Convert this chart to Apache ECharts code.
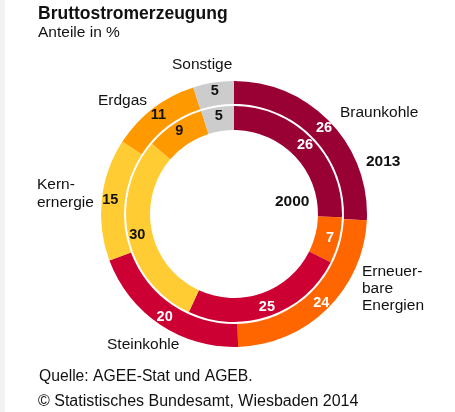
<!DOCTYPE html>
<html>
<head>
<meta charset="utf-8">
<script src="https://cdn.jsdelivr.net/npm/echarts@6/dist/echarts.min.js"></script>
<style>
html,body{margin:0;padding:0;background:#fff;}
#c{width:455px;height:412px;}
</style>
</head>
<body>
<div id="c"></div>
<script>
const categories = ['Braunkohle', 'Erneuerbare Energien', 'Steinkohle', 'Kernenergie', 'Erdgas', 'Sonstige'];
const values2013 = [26, 24, 20, 15, 11, 5];
const values2000 = [26, 7, 25, 30, 9, 5];
const sliceColors = ['#990033', '#ff6600', '#cc0033', '#ffcc33', '#ff9900', '#cccccc'];
const labelColors = ['#ffffff', '#ffffff', '#ffffff', '#111111', '#111111', '#111111'];

const FONT = '"Liberation Sans", Arial, sans-serif';
const LBL = '15.5px ' + FONT;

function buildData(vals) {
  return categories.map((name, i) => ({
    name: name,
    value: vals[i],
    itemStyle: { color: sliceColors[i] },
    label: { color: labelColors[i] }
  }));
}

const chart = echarts.init(document.getElementById('c'), null, { renderer: 'canvas' });
const pieCommon = {
  type: 'pie',
  center: [234, 214],
  startAngle: 90,
  clockwise: true,
  animation: false,
  silent: true,
  avoidLabelOverlap: false,
  labelLine: { show: false },
  label: {
    show: true,
    position: 'inside',
    formatter: '{c}',
    fontFamily: FONT,
    fontWeight: 'bold',
    fontSize: 14.5
  },
  itemStyle: { borderWidth: 0 }
};

chart.setOption({
  backgroundColor: '#ffffff',
  series: [
    Object.assign({}, pieCommon, { name: '2013', radius: [110, 133], data: buildData(values2013) }),
    Object.assign({}, pieCommon, { name: '2000', radius: [84, 108], data: buildData(values2000) })
  ],
  graphic: [
    { type: 'rect', left: 0, top: 0, shape: { width: 5, height: 412 }, style: { fill: '#f2f2f2' } },
    { type: 'text', left: 38, top: 5, style: { text: 'Bruttostromerzeugung', fill: '#111', font: 'bold 17.5px ' + FONT } },
    { type: 'text', left: 38, top: 25, style: { text: 'Anteile in %', fill: '#111', font: LBL } },
    { type: 'text', left: 172, top: 57, style: { text: 'Sonstige', fill: '#111', font: LBL } },
    { type: 'text', left: 340, top: 105, style: { text: 'Braunkohle', fill: '#111', font: LBL } },
    { type: 'text', left: 366, top: 154, style: { text: '2013', fill: '#111', font: 'bold 15.5px ' + FONT } },
    { type: 'text', left: 275, top: 194, style: { text: '2000', fill: '#111', font: 'bold 15.5px ' + FONT } },
    { type: 'text', left: 98, top: 93, style: { text: 'Erdgas', fill: '#111', font: LBL } },
    { type: 'text', left: 37, top: 176, style: { text: 'Kern-\nernergie', fill: '#111', font: LBL, lineHeight: 18 } },
    { type: 'text', left: 362, top: 263, style: { text: 'Erneuer-\nbare\nEnergien', fill: '#111', font: LBL, lineHeight: 17 } },
    { type: 'text', left: 107, top: 337, style: { text: 'Steinkohle', fill: '#111', font: LBL } },
    { type: 'text', left: 39, top: 369, style: { text: 'Quelle: AGEE-Stat und AGEB.', fill: '#111', font: '15.7px ' + FONT } },
    { type: 'text', left: 38, top: 394, style: { text: '\u00A9 Statistisches Bundesamt, Wiesbaden 2014', fill: '#111', font: '16px ' + FONT } }
  ]
});
</script>
</body>
</html>
